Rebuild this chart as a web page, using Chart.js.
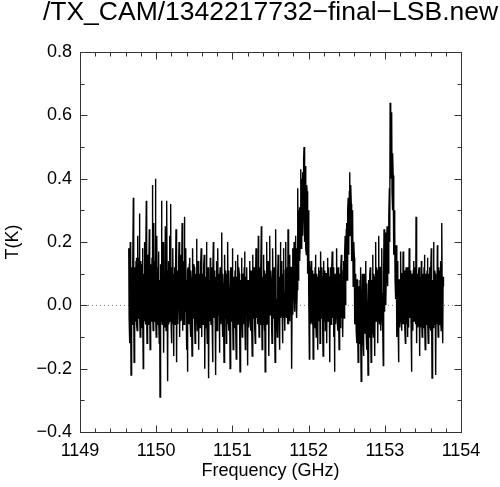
<!DOCTYPE html>
<html><head><meta charset="utf-8">
<script src="https://cdn.jsdelivr.net/npm/chart.js@4.4.0/dist/chart.umd.min.js"></script>
<style>html,body{margin:0;padding:0;background:#fff;} canvas{display:block;}</style>
</head><body>
<canvas id="c" width="500" height="487"></canvas>
<script>
const chartTitle = '/TX_CAM/1342217732\u2212final\u2212LSB.new';
const xAxisTitle = 'Frequency (GHz)';
const yAxisTitle = 'T(K)';

// spectrum channels (0.005 GHz apart)
const freqStart = 1149.64;
const channelWidth = 0.005;
const tValues = [
  0.18,-0.04,-0.12,0.10,0.20,-0.03,-0.22,0.12,0.10,-0.06,-0.05,0.13,0.34,-0.02,-0.18,0.11,0.12,-0.05,0.02,0.14,
  0.15,-0.06,-0.08,0.12,0.22,-0.04,0.00,0.15,0.29,-0.03,-0.10,0.09,0.14,-0.07,-0.04,0.13,0.18,-0.02,-0.20,0.10,
  0.08,-0.05,0.20,-0.03,-0.06,0.14,0.33,-0.04,-0.12,0.11,0.16,-0.06,-0.02,0.12,0.24,-0.01,-0.14,0.13,0.10,-0.05,
  0.05,0.15,0.38,-0.02,-0.08,0.12,0.26,-0.05,-0.04,0.14,0.40,-0.03,-0.10,0.11,0.22,-0.06,0.00,0.12,0.17,-0.04,
  -0.12,0.08,-0.29,0.13,0.12,-0.05,0.33,-0.02,-0.06,0.14,0.20,-0.04,-0.15,0.10,0.10,-0.07,0.25,-0.03,-0.08,0.12,
  0.33,-0.04,-0.24,0.11,0.14,-0.06,-0.05,0.13,0.22,-0.02,0.32,-0.05,-0.12,0.12,0.08,-0.06,0.18,-0.03,-0.16,0.10,
  0.12,-0.05,-0.06,0.13,0.24,-0.03,-0.18,0.11,0.10,-0.06,0.02,0.14,0.20,-0.04,-0.10,0.10,0.16,-0.05,-0.04,0.12,
  0.26,-0.03,-0.08,0.12,0.14,-0.06,0.28,-0.02,-0.02,0.13,0.18,-0.05,-0.14,0.08,-0.21,0.11,0.12,-0.06,0.04,0.13,
  0.15,-0.05,-0.10,0.11,0.08,-0.07,-0.16,0.12,0.18,-0.04,0.00,0.13,0.12,-0.06,-0.12,0.10,0.06,-0.05,0.21,-0.03,
  -0.08,0.11,0.14,-0.06,-0.14,0.09,0.10,-0.07,0.02,0.12,0.18,-0.05,-0.10,0.10,0.08,-0.06,-0.04,0.12,0.16,-0.04,
  -0.20,0.09,0.06,-0.07,0.20,-0.03,-0.12,0.11,0.12,-0.06,-0.23,0.08,0.04,-0.05,0.15,-0.04,-0.06,0.12,0.10,-0.07,
  -0.18,0.10,0.20,-0.04,-0.02,0.11,0.08,-0.07,-0.22,0.09,0.14,-0.05,-0.08,0.12,0.18,-0.03,0.00,0.10,-0.15,0.08,
  0.12,-0.05,-0.06,0.12,0.23,-0.03,-0.10,0.10,0.06,-0.07,-0.18,0.09,0.16,-0.04,0.02,0.11,-0.12,0.08,0.10,-0.06,
  0.20,-0.04,-0.08,0.11,0.04,-0.06,-0.20,0.10,0.12,-0.05,-0.02,0.12,0.18,-0.03,-0.14,0.09,0.08,-0.07,0.00,0.11,
  0.14,-0.05,-0.17,0.09,0.06,-0.06,0.16,-0.04,-0.06,0.12,0.10,-0.07,-0.21,0.08,0.04,-0.05,0.15,-0.03,-0.10,0.10,
  0.08,-0.06,-0.04,0.12,0.17,-0.04,-0.14,0.09,0.02,0.11,0.12,-0.06,-0.19,0.08,0.06,-0.07,-0.02,0.10,0.14,-0.05,
  -0.08,0.11,0.10,-0.06,-0.16,0.09,0.16,-0.04,0.00,0.12,0.08,-0.07,-0.12,0.10,0.18,-0.03,-0.04,0.11,0.06,-0.06,
  0.22,-0.04,-0.10,0.10,0.12,-0.06,-0.02,0.12,0.25,-0.03,-0.14,0.09,0.04,-0.06,0.16,-0.04,-0.08,0.11,-0.21,0.08,
  0.10,-0.06,0.20,-0.04,-0.06,0.12,0.14,-0.05,-0.16,0.09,0.22,-0.03,0.00,0.11,0.08,-0.07,-0.12,0.10,0.18,-0.04,
  -0.04,0.11,0.12,-0.06,-0.18,0.09,0.24,-0.03,0.02,-0.06,-0.10,0.10,0.16,-0.05,0.06,-0.07,-0.14,0.09,0.20,-0.04,
  -0.02,0.12,0.14,-0.05,-0.12,0.10,0.18,-0.04,0.04,-0.06,-0.08,0.11,0.20,-0.03,-0.04,0.12,0.10,-0.06,0.24,-0.02,
  -0.06,0.11,0.16,-0.05,0.02,0.12,0.12,-0.06,-0.20,0.09,0.18,-0.03,0.04,0.13,0.20,-0.02,0.08,0.16,0.22,0.02,
  0.18,-0.04,0.05,0.20,0.37,0.08,0.12,0.30,0.31,0.14,0.20,0.38,0.43,0.18,0.28,0.40,0.42,0.22,0.30,0.46,
  0.50,0.26,0.20,0.44,0.41,0.18,0.16,0.38,0.36,0.12,0.10,0.30,0.25,0.02,-0.17,0.14,0.12,-0.06,-0.04,0.10,
  0.14,-0.05,-0.06,0.11,-0.17,0.08,0.10,-0.07,-0.02,0.12,0.16,-0.04,-0.10,0.10,0.06,-0.06,-0.14,0.09,0.12,-0.05,
  0.02,0.11,-0.12,0.09,0.17,-0.04,-0.04,0.12,0.08,-0.07,-0.16,0.08,0.14,-0.05,0.00,0.11,-0.08,0.10,0.10,-0.06,
  -0.12,0.10,0.15,-0.05,-0.02,0.12,0.06,-0.07,-0.18,0.09,0.12,-0.06,-0.06,0.11,0.17,-0.04,0.00,0.12,-0.10,0.09,
  -0.21,0.08,0.10,-0.06,0.04,0.12,0.18,-0.04,-0.08,0.11,0.12,-0.06,-0.14,0.10,0.08,-0.07,0.02,0.12,0.16,-0.04,
  0.06,-0.06,-0.10,0.11,0.14,-0.04,0.02,0.16,0.22,0.00,0.06,0.24,0.26,0.08,0.14,0.30,0.34,0.16,0.20,0.36,
  0.42,0.22,0.24,0.38,0.32,0.14,0.16,0.30,0.28,0.06,0.08,0.20,0.15,-0.06,-0.04,0.10,0.10,-0.08,-0.12,0.08,
  0.08,-0.10,-0.18,0.06,0.02,-0.12,-0.10,0.08,0.12,-0.08,-0.24,0.05,-0.02,0.10,0.06,-0.11,-0.16,0.07,0.10,-0.09,
  -0.08,0.09,0.14,-0.08,-0.14,0.07,0.00,-0.11,-0.22,0.06,0.08,-0.10,-0.06,0.10,0.12,-0.07,-0.18,0.08,0.04,-0.09,
  0.16,-0.06,-0.10,0.10,0.06,-0.08,-0.16,0.09,0.20,-0.05,-0.02,0.12,0.10,-0.07,-0.12,0.11,0.22,-0.04,-0.06,0.12,
  0.12,-0.06,-0.08,0.11,0.18,-0.04,0.04,-0.07,-0.19,0.10,0.24,-0.02,0.06,0.14,0.23,0.00,0.10,0.20,0.25,0.06,
  0.22,0.12,0.10,0.28,0.37,0.20,0.64,0.40,0.42,0.58,0.61,0.36,0.30,0.48,0.41,0.22,0.16,0.30,0.25,0.08,
  0.02,0.14,0.19,-0.05,-0.10,0.10,0.14,-0.06,-0.18,0.08,0.08,-0.07,-0.04,0.11,0.17,-0.04,-0.08,0.10,0.10,-0.06,
  0.17,-0.05,-0.06,0.11,0.04,-0.07,-0.12,0.09,0.12,-0.06,0.00,0.12,-0.10,0.09,0.08,-0.07,0.18,-0.04,-0.04,0.11,
  0.06,-0.06,-0.21,0.08,0.10,-0.07,-0.08,0.11,0.14,-0.05,-0.02,0.12,0.06,-0.06,0.28,-0.02,-0.12,0.10,0.08,-0.07,
  -0.06,0.11,0.12,-0.06,-0.16,0.09,0.04,-0.07,0.14,-0.05,-0.10,0.10,0.08,-0.07,-0.02,0.12,0.16,-0.04,-0.14,0.09,
  0.10,-0.06,-0.04,0.11,0.15,-0.05,-0.12,0.10,0.02,-0.07,0.12,-0.05,-0.08,0.11,0.18,-0.04,-0.23,0.08,0.06,-0.07,
  0.20,-0.04,-0.06,0.11,0.10,-0.07,-0.22,0.08,0.04,-0.06,0.19,-0.04,-0.10,0.10,0.12,-0.06,-0.02,0.11,0.14,-0.05,
  -0.08,0.10,0.26,-0.04,-0.12,0.09,0.06
];

const xTicks = [1149, 1150, 1151, 1152, 1153, 1154];
const yTicks = [-0.4, -0.2, 0.0, 0.2, 0.4, 0.6, 0.8];
const xMinorStep = 0.2;
const yMinorStep = 0.1;
const zeroLevel = 0;

const spectrum = tValues.map((t, i) => ({ x: freqStart + i * channelWidth, y: t }));
const xMin = xTicks[0], xMax = xTicks[xTicks.length - 1];
const yMin = yTicks[0], yMax = yTicks[yTicks.length - 1];

function fmtY(v) {
  if (Math.abs(v) < 1e-9) return '0.0';
  return v.toFixed(1).replace('-', '\u2212');
}

const framePlugin = {
  id: 'frame',
  afterDatasetsDraw(chart) {
    const { ctx, chartArea: ca } = chart;
    const xs = chart.scales.x, ys = chart.scales.y;
    ctx.save();
    ctx.strokeStyle = '#333';
    ctx.lineWidth = 1;
    const L = Math.round(ca.left) + 0.5, R = Math.round(ca.right) + 0.5;
    const T = Math.round(ca.top) + 0.5, B = Math.round(ca.bottom) + 0.5;
    ctx.strokeRect(L, T, R - L, B - T);
    ctx.beginPath();
    const nx = Math.round((xMax - xMin) / xMinorStep);
    for (let k = 0; k <= nx; k++) {
      const v = xMin + k * xMinorStep;
      const major = Math.abs(v - Math.round(v)) < 1e-6;
      const len = major ? 7 : 4;
      const px = Math.round(xs.getPixelForValue(v)) + 0.5;
      ctx.moveTo(px, B); ctx.lineTo(px, B - len);
      ctx.moveTo(px, T); ctx.lineTo(px, T + len);
    }
    const ny = Math.round((yMax - yMin) / yMinorStep);
    for (let k = 0; k <= ny; k++) {
      const v = yMin + k * yMinorStep;
      const r = v / 0.2;
      const major = Math.abs(r - Math.round(r)) < 1e-6;
      const len = major ? 7 : 4;
      const py = Math.round(ys.getPixelForValue(v)) + 0.5;
      ctx.moveTo(L, py); ctx.lineTo(L + len, py);
      ctx.moveTo(R, py); ctx.lineTo(R - len, py);
    }
    ctx.stroke();
    ctx.restore();
  }
};

const titleCenter = {
  id: 'titleCenter',
  afterLayout(chart) {
    const tb = chart.titleBlock;
    if (!tb) return;
    const ca = chart.chartArea;
    const c = (ca.left + ca.right) / 2;
    const half = Math.min(c, chart.width - c);
    tb.left = c - half; tb.right = c + half; tb.width = 2 * half;
  }
};

Chart.defaults.font.family = "'Liberation Sans', Arial, Helvetica, sans-serif";
Chart.defaults.font.size = 18;
Chart.defaults.color = '#000';

new Chart(document.getElementById('c'), {
  type: 'line',
  data: {
    datasets: [
      { data: spectrum, borderColor: '#000', borderWidth: 1.4, pointRadius: 0, tension: 0, fill: false },
      { data: [{ x: xMin, y: zeroLevel }, { x: xMax, y: zeroLevel }], borderColor: '#777', borderWidth: 1,
        borderDash: [1, 3], pointRadius: 0, fill: false }
    ]
  },
  options: {
    responsive: false,
    animation: false,
    devicePixelRatio: 1,
    layout: { padding: { left: 0, right: 39, top: 0, bottom: 0 } },
    plugins: {
      legend: { display: false },
      tooltip: { enabled: false },
      title: { display: true, text: chartTitle, color: '#000',
        font: { size: 26.5, weight: 'normal' }, padding: { top: -3, bottom: 23.2 } }
    },
    scales: {
      x: {
        type: 'linear', min: xMin, max: xMax,
        grid: { display: false, drawTicks: false }, border: { display: false },
        afterBuildTicks: s => { s.ticks = xTicks.map(v => ({ value: v })); },
        afterFit: s => { s.height = 55; },
        ticks: { padding: 8, color: '#000', font: { size: 18 }, maxRotation: 0, autoSkip: false,
          callback: v => String(v) },
        title: { display: true, text: xAxisTitle, color: '#000', font: { size: 18 }, padding: { top: 0, bottom: 5 } }
      },
      y: {
        type: 'linear', min: yMin, max: yMax,
        grid: { display: false, drawTicks: false }, border: { display: false },
        afterBuildTicks: s => { s.ticks = yTicks.map(v => ({ value: v })); },
        afterFit: s => { s.width = 80; },
        ticks: { padding: 8, color: '#000', font: { size: 18 }, autoSkip: false, callback: v => fmtY(v) },
        title: { display: true, text: yAxisTitle, color: '#000', font: { size: 18 }, padding: { top: 2, bottom: 0 } }
      }
    }
  },
  plugins: [framePlugin, titleCenter]
});
</script>
</body></html>
